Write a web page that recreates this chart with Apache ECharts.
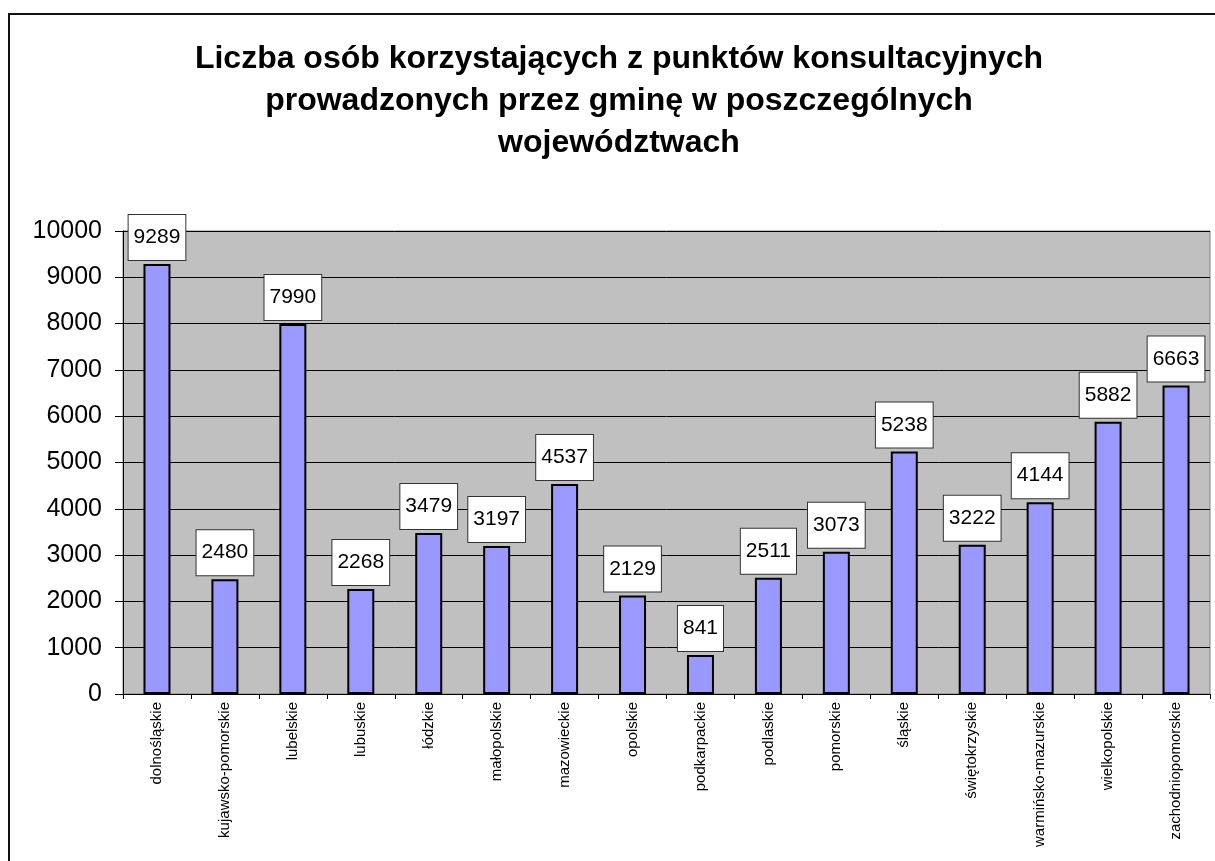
<!DOCTYPE html>
<html>
<head>
<meta charset="utf-8">
<script src="https://cdn.jsdelivr.net/npm/echarts@6/dist/echarts.min.js"></script>
<style>
  html, body { margin: 0; padding: 0; background: #fff; }
  #chart { width: 1215px; height: 861px; }
</style>
</head>
<body>
<div id="chart"></div>
<script>
// data
var regions = ['dolnośląskie', 'kujawsko-pomorskie', 'lubelskie', 'lubuskie', 'łódzkie',
  'małopolskie', 'mazowieckie', 'opolskie', 'podkarpackie', 'podlaskie', 'pomorskie',
  'śląskie', 'świętokrzyskie', 'warmińsko-mazurskie', 'wielkopolskie', 'zachodniopomorskie'];
var persons = [9289, 2480, 7990, 2268, 3479, 3197, 4537, 2129, 841, 2511, 3073, 5238, 3222, 4144, 5882, 6663];
var yTicks = [0, 1000, 2000, 3000, 4000, 5000, 6000, 7000, 8000, 9000, 10000];
var chartTitle = 'Liczba osób korzystających z punktów konsultacyjnych\nprowadzonych przez gminę w poszczególnych\nwojewództwach';

var font = '"Liberation Sans", Arial, sans-serif';

var chart = echarts.init(document.getElementById('chart'));

var option = {
  backgroundColor: '#fff',
  animation: false,
  graphic: [
    {
      // outer frame of the chart object
      type: 'rect',
      shape: { x: 9, y: 14, width: 1400, height: 1000 },
      style: { fill: null, stroke: '#111', lineWidth: 2 },
      z: 0
    },
    {
      type: 'text',
      x: 619,
      y: 38,
      style: {
        text: chartTitle,
        font: 'bold 32px ' + font,
        lineHeight: 42,
        fill: '#000',
        align: 'center',
        verticalAlign: 'top'
      }
    }
  ],
  grid: {
    left: 123,
    right: 5,
    top: 231,
    bottom: 167,
    show: true,
    backgroundColor: '#c0c0c0',
    borderColor: '#808080',
    borderWidth: 1
  },
  xAxis: {
    type: 'category',
    data: regions,
    axisLine: { lineStyle: { color: '#000', width: 1 } },
    axisTick: { show: true, length: 5, lineStyle: { color: '#000' } },
    axisLabel: {
      rotate: 90,
      interval: 0,
      margin: 8,
      color: '#000',
      fontFamily: font,
      fontSize: 15
    }
  },
  yAxis: {
    type: 'value',
    min: yTicks[0],
    max: yTicks[yTicks.length - 1],
    interval: 1000,
    axisLine: { show: true, lineStyle: { color: '#000', width: 1 } },
    axisTick: { show: true, length: 8, lineStyle: { color: '#000' } },
    splitLine: { show: true, lineStyle: { color: '#000', width: 1 } },
    axisLabel: {
      margin: 21,
      color: '#000',
      fontFamily: font,
      fontSize: 25,
      formatter: function (v) { return String(v); }
    }
  },
  series: [{
    type: 'bar',
    data: persons,
    barWidth: 27,
    itemStyle: { color: '#9999ff', borderColor: '#000', borderWidth: 2 },
    label: {
      show: true,
      position: 'top',
      distance: 4,
      color: '#000',
      fontFamily: font,
      fontSize: 21,
      lineHeight: 21,
      backgroundColor: '#fff',
      borderColor: '#333',
      borderWidth: 1,
      padding: [12, 5]
    }
  }]
};

chart.setOption(option);
</script>
</body>
</html>
